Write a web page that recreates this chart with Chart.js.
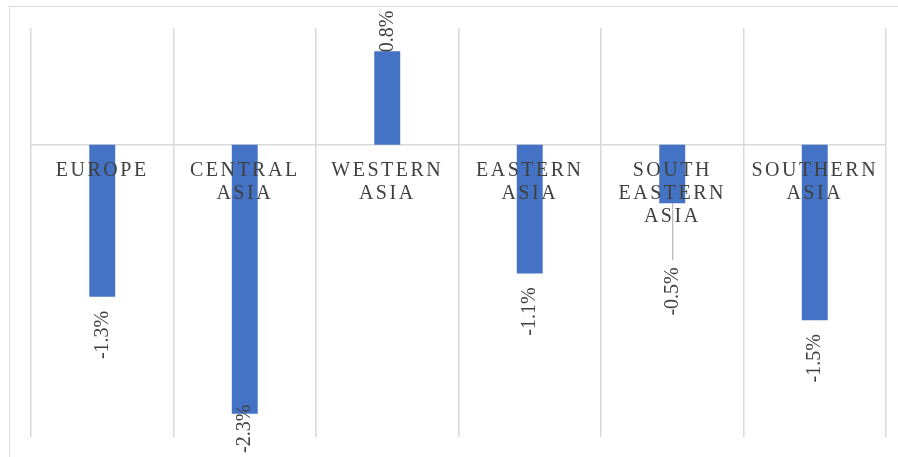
<!DOCTYPE html>
<html>
<head>
<meta charset="utf-8">
<script src="https://cdn.jsdelivr.net/npm/chart.js@4"></script>
<style>
    html, body { margin: 0; padding: 0; background: #fff; }
    #frame {
        position: absolute;
        left: 9px;
        top: 6px;
        width: 900px;
        height: 460px;
        border-left: 1px solid #d9d9d9;
        border-top: 1px solid #d9d9d9;
    }
    #chart { position: absolute; left: 0; top: 0; }
</style>
</head>
<body>
<div id="frame"></div>
<canvas id="chart" width="898" height="457"></canvas>
<script>
// regions and % change
const regions = [
    'EUROPE',
    ['CENTRAL', 'ASIA'],
    ['WESTERN', 'ASIA'],
    ['EASTERN', 'ASIA'],
    ['SOUTH', 'EASTERN', 'ASIA'],
    ['SOUTHERN', 'ASIA']
];
const changes = [-1.3, -2.3, 0.8, -1.1, -0.5, -1.5];

const serif = '"Liberation Serif", "Times New Roman", serif';

// labels that get pushed away from their bar with a leader line
const leaderShift = [0, 0, 0, 0, 50, 0];

const barLabels = {
    id: 'barLabels',
    afterDatasetsDraw(chart) {
        const ctx = chart.ctx;
        const meta = chart.getDatasetMeta(0);
        ctx.save();
        ctx.font = '20px ' + serif;
        ctx.fillStyle = '#404040';
        ctx.textBaseline = 'middle';
        ctx.textAlign = 'center';
        meta.data.forEach((bar, i) => {
            const v = changes[i];
            const text = v.toFixed(1) + '%';
            const w = ctx.measureText(text).width;
            const extra = leaderShift[i];
            let start, end;
            if (v < 0) {
                start = bar.y + 14 + extra;
                end = start + w;
                if (end > chart.height - 4) {
                    end = chart.height - 4;
                    start = end - w;
                }
            } else {
                end = bar.y + 1;
                start = end - w;
                if (start < 10) {
                    start = 10;
                    end = start + w;
                }
            }
            if (extra) {
                ctx.save();
                ctx.strokeStyle = '#a6a6a6';
                ctx.lineWidth = 1;
                ctx.beginPath();
                ctx.moveTo(bar.x + 0.5, bar.y);
                ctx.lineTo(bar.x + 0.5, start - 7);
                ctx.stroke();
                ctx.restore();
            }
            ctx.save();
            ctx.translate(bar.x, (start + end) / 2);
            ctx.rotate(-Math.PI / 2);
            ctx.fillText(text, 0, 0);
            ctx.restore();
        });
        ctx.restore();
        // category labels are spaced out
        ctx.letterSpacing = '2.5px';
    },
    afterDraw(chart) {
        chart.ctx.letterSpacing = '0px';
    }
};

new Chart(document.getElementById('chart'), {
    type: 'bar',
    data: {
        labels: regions,
        datasets: [{
            data: changes,
            backgroundColor: '#4472c4',
            borderWidth: 0,
            barPercentage: 0.182,
            categoryPercentage: 1
        }]
    },
    options: {
        responsive: false,
        animation: false,
        layout: {
            padding: { left: 31, right: 12, top: 28, bottom: 20 }
        },
        plugins: {
            legend: { display: false },
            tooltip: { enabled: false }
        },
        scales: {
            x: {
                position: { y: 0 },
                grid: {
                    color: '#d9d9d9',
                    lineWidth: 1.5,
                    drawTicks: false,
                    offset: true
                },
                border: { display: true, color: '#d9d9d9', width: 1.5 },
                ticks: {
                    z: 1,
                    padding: 14,
                    color: '#404040',
                    maxRotation: 0,
                    autoSkip: false,
                    font: { family: serif, size: 20, lineHeight: 1.15 }
                }
            },
            y: {
                display: false,
                min: -2.5,
                max: 1
            }
        }
    },
    plugins: [barLabels]
});
</script>
</body>
</html>
